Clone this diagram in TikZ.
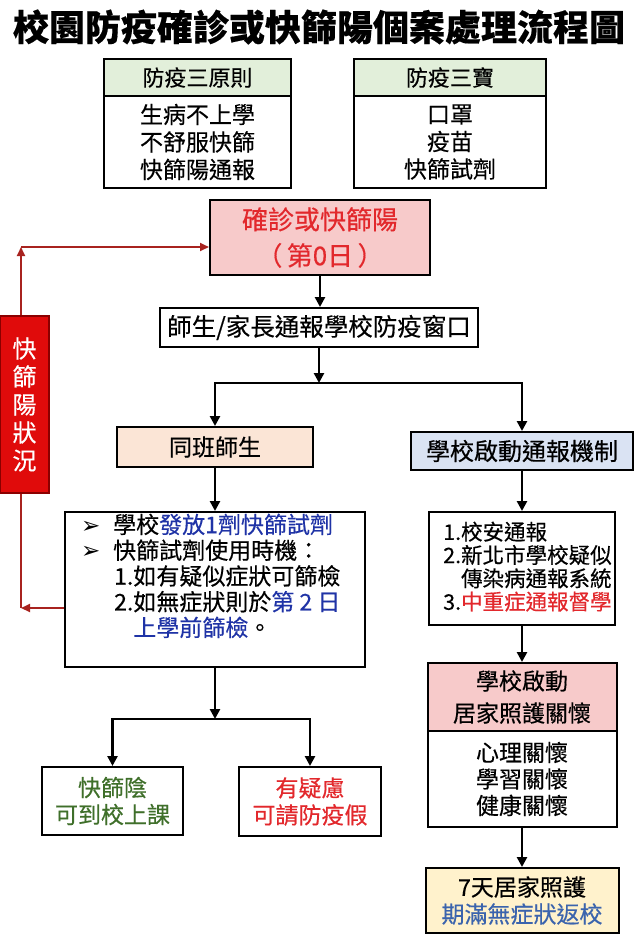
\documentclass[tikz,border=0pt]{standalone}
\usepackage{fontspec}
\setmainfont{Noto Sans CJK TC}[FakeBold=0.4]
\newfontfamily\dejavu{DejaVu Sans}
\usetikzlibrary{arrows.meta}
\definecolor{hgreen}{HTML}{E2EFDA}
\definecolor{pinkf}{HTML}{F7CACA}
\definecolor{peach}{HTML}{FBE5D6}
\definecolor{lblue}{HTML}{DAE3F3}
\definecolor{lyellow}{HTML}{FFF2CC}
\definecolor{tred}{HTML}{E2282C}
\definecolor{tblue}{HTML}{1F33A6}
\definecolor{sblue}{HTML}{3B64AD}
\definecolor{tgreen}{HTML}{3F6F2A}
\definecolor{labred}{HTML}{E00B0B}
\definecolor{labedge}{HTML}{8B0000}
\definecolor{lred}{HTML}{A8231F}
\tikzset{
  box/.style={draw=black, line width=2pt, inner sep=0pt, align=center,
    font=\fontsize{23}{27.5}\selectfont},
  arr/.style={line width=2.5pt, line join=miter, -{Triangle[width=10pt,length=10pt]}},
  rarr/.style={draw=lred, line width=2pt, -{Triangle[width=8pt,length=9pt]}},
  txt/.style={inner sep=0pt, align=left}
}
\begin{document}
\begin{tikzpicture}[x=1pt,y=-1pt]
\useasboundingbox (0,0) rectangle (638,935);
% title
\node[inner sep=0pt, font=\bfseries\fontsize{36}{36}\selectfont] (title) at (319,27) {校園防疫確診或快篩陽個案處理流程圖};
% top boxes
\node[box, fill=hgreen, minimum width=187pt, minimum height=37pt, font=\fontsize{22}{26}\selectfont] (p1h) at (197.5,77.5) {防疫三原則};
\node[box, minimum width=187pt, minimum height=92pt] (p1b) at (197.5,142) {生病不上學\\不舒服快篩\\快篩陽通報};
\node[box, fill=hgreen, minimum width=192pt, minimum height=37pt, font=\fontsize{22}{26}\selectfont] (p2h) at (450,77.5) {防疫三寶};
\node[box, minimum width=192pt, minimum height=92pt] (p2b) at (450,142) {口罩\\疫苗\\快篩試劑};
% main chain
\node[box, fill=pinkf, text=tred, minimum width=220pt, minimum height=75pt, font=\fontsize{26}{36}\selectfont] (zero) at (320,237.5) {確診或快篩陽\\（\,第0日\,）};
\node[box, minimum width=318pt, minimum height=39pt, font=\fontsize{24.5}{28}\selectfont] (report) at (319,327.5) {師生/家長通報學校防疫窗口};
\node[box, fill=peach, minimum width=196pt, minimum height=40pt, font=\fontsize{23}{27}\selectfont] (tb) at (215,447) {同班師生};
\node[box, fill=lblue, minimum width=222pt, minimum height=38pt, font=\fontsize{24}{28}\selectfont] (sch) at (522,451) {學校啟動通報機制};
% left bullet box
\node[box, minimum width=300pt, minimum height=155pt] (bul) at (215,589.5) {};
\node[txt, anchor=north west, font=\fontsize{23}{25.75}\selectfont] (bultxt) at (81,513.5) {%
\makebox[32pt][l]{\dejavu\fontsize{23}{23}\selectfont ➢}學校\textcolor{tblue}{發放1劑快篩試劑}\\
\makebox[32pt][l]{\dejavu\fontsize{23}{23}\selectfont ➢}快篩試劑使用時機：\\
\hspace*{33pt}1.如有疑似症狀可篩檢\\
\hspace*{33pt}2.如無症狀則於\textcolor{tblue}{第 2 日}\\
\hspace*{33pt}\phantom{2.}\textcolor{tblue}{上學前篩檢}。};
% right list box
\node[box, minimum width=186pt, minimum height=113pt] (list) at (522,568.5) {};
\node[txt, anchor=north west, font=\fontsize{21.5}{23.3}\selectfont] (listtxt) at (443,521.5) {%
1.校安通報\\
2.新北市學校疑似\\
\phantom{2.}傳染病通報系統\\
3.\textcolor{tred}{中重症通報督學}};
% care box
\node[box, fill=pinkf, minimum width=189pt, minimum height=68pt, font=\fontsize{23}{32}\selectfont] (careh) at (522,697) {學校啟動\\居家照護關懷};
\node[box, minimum width=189pt, minimum height=96pt, font=\fontsize{23}{26.5}\selectfont] (careb) at (522,779) {心理關懷\\學習關懷\\健康關懷};
\node[box, fill=lyellow, minimum width=193pt, minimum height=65pt, font=\fontsize{23}{27}\selectfont] (seven) at (522,900.5) {7天居家照護\\\textcolor{sblue}{期滿無症狀返校}};
% bottom left boxes
\node[box, text=tgreen, minimum width=141pt, minimum height=68pt, font=\fontsize{23}{27}\selectfont] (qs) at (112.5,801) {快篩陰\\可到校上課};
\node[box, text=tred, minimum width=142pt, minimum height=69pt, font=\fontsize{23}{27}\selectfont] (yy) at (310,801.5) {有疑慮\\可請防疫假};
% coordinates
\coordinate (j1) at (319,383);
\coordinate (j1l) at (215,383);
\coordinate (j1r) at (522,383);
\coordinate (j2) at (215,719);
\coordinate (j2l) at (112.5,719);
\coordinate (j2r) at (310,719);
\coordinate (r1) at (21,608);
\coordinate (r2) at (21,247);
% black connectors
\draw[arr] (zero.south) -- (zero.south |- report.north);
\draw[arr] (report.south) -- (j1);
\draw[arr] (j1r) -- (j1l) -- (tb.north);
\draw[arr] (j1l) -- (j1r) -- (sch.north);
\draw[arr] (tb.south) -- (bul.north);
\draw[arr] (sch.south) -- (list.north);
\draw[arr] (list.south) -- (careh.north);
\draw[arr] (careb.south) -- (seven.north);
\draw[arr] (bul.south) -- (j2);
\draw[arr] (j2r) -- (j2l) -- (qs.north);
\draw[arr] (j2l) -- (j2r) -- (yy.north);
% red connectors
\draw[rarr] (bul.west |- r1) -- (r1);
\draw[rarr] (r1) -- (r2);
\draw[rarr] (r2) -- (zero.west |- r2);
% red label on top
\node[draw=labedge, line width=1.5pt, fill=labred, text=white, inner sep=0pt, align=center, minimum width=49pt, minimum height=177pt, font=\fontsize{24}{28}\selectfont] (lab) at (24.5,404.5) {快\\篩\\陽\\狀\\況};
\end{tikzpicture}
\end{document}
